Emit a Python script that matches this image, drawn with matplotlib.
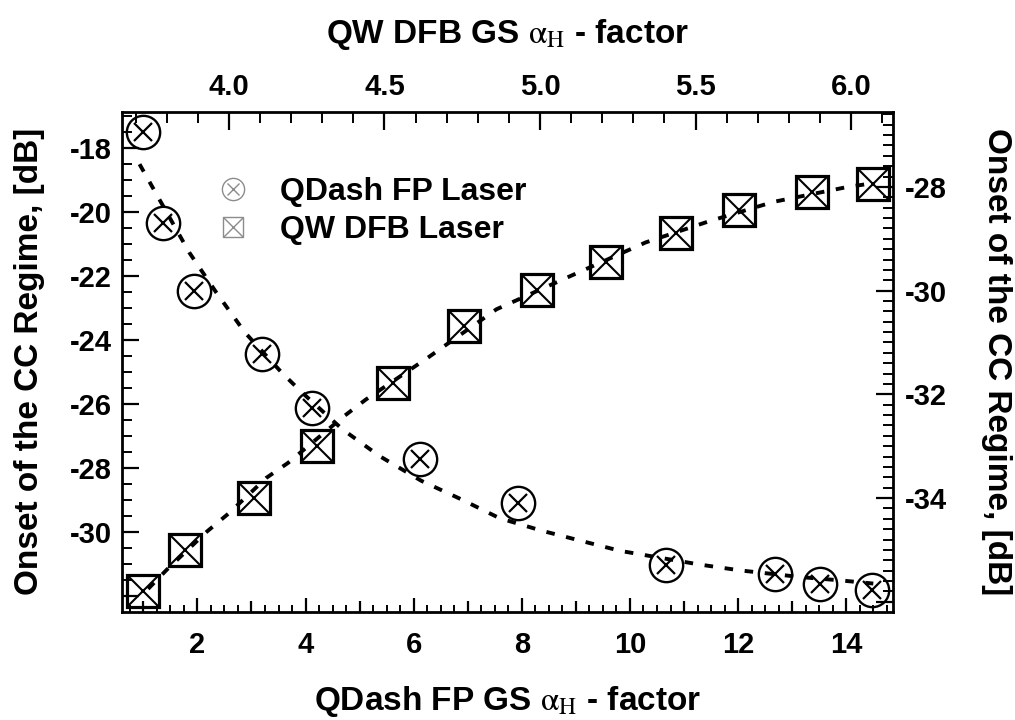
import matplotlib.pyplot as plt
from matplotlib.lines import Line2D
from matplotlib.ticker import MultipleLocator, FuncFormatter

plt.rcParams['font.family'] = ['Liberation Sans', 'DejaVu Sans']
plt.rcParams['mathtext.fontset'] = 'stix'
plt.rcParams['axes.unicode_minus'] = False

# QDash FP laser (sumbu bawah / kiri)
qd_alpha = [0.99, 1.36, 1.93, 3.19, 4.12, 6.11, 7.93, 10.67, 12.69, 13.52, 14.48]
qd_onset = [-17.51, -20.33, -22.46, -24.43, -26.13, -27.72, -29.09, -31.02, -31.31, -31.62, -31.80]
qd_fit_alpha = [0.93, 1.24, 1.85, 2.35, 2.88, 3.57, 3.94, 4.68, 5.37, 6.14, 6.88, 7.59,
                8.37, 9.08, 9.82, 11.30, 12.04, 13.17, 13.88, 14.50]
qd_fit_onset = [-18.50, -19.43, -21.26, -22.51, -23.76, -25.03, -25.64, -26.78, -27.62, -28.39,
                -28.97, -29.56, -29.95, -30.26, -30.58, -31.01, -31.19, -31.40, -31.50, -31.60]

# QW DFB laser (sumbu atas / kanan)
qw_alpha = [3.724, 3.859, 4.080, 4.284, 4.528, 4.757, 4.989, 5.212, 5.437, 5.641, 5.874, 6.070]
qw_onset = [-35.80, -35.00, -34.00, -32.99, -31.78, -30.68, -29.99, -29.44, -28.89, -28.44, -28.10, -27.95]
qw_fit_alpha = [3.74, 3.80, 3.93, 4.00, 4.12, 4.19, 4.37, 4.44, 4.64, 4.86, 5.09, 5.34,
                5.54, 5.75, 5.99, 6.07]
qw_fit_onset = [-35.75, -35.38, -34.64, -34.29, -33.61, -33.32, -32.42, -32.10, -31.29, -30.36,
                -29.74, -29.07, -28.67, -28.29, -28.00, -27.93]

labels = ['QDash FP Laser', 'QW DFB Laser']
left_ticks = [-18, -20, -22, -24, -26, -28, -30]
right_ticks = [-28, -30, -32, -34]

fig = plt.figure(figsize=(10.15, 7.2), dpi=100)
ax = fig.add_axes([0.1199, 0.1504, 0.7602, 0.6945])
ax2 = fig.add_axes(ax.get_position(), frameon=False)
ax2.patch.set_visible(False)

# kurva fit putus-putus
ax.plot(qd_fit_alpha, qd_fit_onset, color='k', lw=2.8, dashes=(2.2, 3.0))
ax2.plot(qw_fit_alpha, qw_fit_onset, color='k', lw=2.8, dashes=(2.2, 3.0))

# marker lingkaran-silang dan kotak-silang
ax.plot(qd_alpha, qd_onset, 'o', ms=24, mfc='none', mec='k', mew=1.7, clip_on=False)
ax.plot(qd_alpha, qd_onset, 'x', ms=13, mec='k', mew=1.6, clip_on=False)
ax2.plot(qw_alpha, qw_onset, 's', ms=23, mfc='none', mec='k', mew=2.3, clip_on=False)
ax2.plot(qw_alpha, qw_onset, 'x', ms=23, mec='k', mew=1.5, clip_on=False)

ax.set_xlim(0.6, 14.87)
ax.set_ylim(-32.48, -16.86)
ax2.set_xlim(3.655, 6.136)
ax2.set_ylim(-36.19, -26.55)

for s in ax.spines.values():
    s.set_linewidth(2.0)

# sumbu bawah: mayor tiap 1 (label genap), minor 0.25
ax.xaxis.set_major_locator(MultipleLocator(1))
ax.xaxis.set_minor_locator(MultipleLocator(0.25))
ax.xaxis.set_major_formatter(FuncFormatter(lambda v, p: '%d' % round(v) if round(v) % 2 == 0 else ''))
ax.yaxis.set_major_locator(MultipleLocator(2))
ax.yaxis.set_minor_locator(MultipleLocator(0.5))
ax.yaxis.set_major_formatter(FuncFormatter(lambda v, p: '%d' % round(v) if round(v) in left_ticks else ''))
ax.tick_params(axis='x', which='major', direction='in', length=10, width=1.6, pad=14,
               labelsize=21, top=False)
ax.tick_params(axis='x', which='minor', direction='in', length=5, width=1.4, top=False)
ax.tick_params(axis='y', which='major', direction='in', length=12, width=1.6, pad=7,
               labelsize=21, right=False)
ax.tick_params(axis='y', which='minor', direction='in', length=7, width=1.4, right=False)
locs = ax.xaxis.get_majorticklocs()
for t, v in zip(ax.xaxis.get_major_ticks(len(locs)), locs):
    if round(v) % 2:
        t.tick1line.set_markersize(8)

ax2.xaxis.tick_top()
ax2.xaxis.set_label_position('top')
ax2.yaxis.tick_right()
ax2.yaxis.set_label_position('right')
ax2.xaxis.set_major_locator(MultipleLocator(0.5))
ax2.xaxis.set_minor_locator(MultipleLocator(0.1))
ax2.xaxis.set_major_formatter(FuncFormatter(lambda v, p: '%.1f' % v))
ax2.yaxis.set_major_locator(MultipleLocator(2))
ax2.yaxis.set_minor_locator(MultipleLocator(0.2))
ax2.yaxis.set_major_formatter(FuncFormatter(lambda v, p: '%d' % round(v) if round(v) in right_ticks else ''))
ax2.tick_params(axis='x', which='major', direction='in', length=13, width=1.6, pad=7.5,
                labelsize=21, bottom=False)
ax2.tick_params(axis='x', which='minor', direction='in', length=8, width=1.4, bottom=False)
ax2.tick_params(axis='y', which='major', direction='in', length=12, width=1.6, pad=8,
                labelsize=21, left=False)
ax2.tick_params(axis='y', which='minor', direction='in', length=7, width=1.4, left=False)

for lab in ax.get_xticklabels() + ax.get_yticklabels() + ax2.get_xticklabels() + ax2.get_yticklabels():
    lab.set_fontweight('bold')

ax.set_xlabel(r'QDash FP GS $\mathrm{\alpha}_{\mathrm{H}}$ - factor', fontsize=24, fontweight='bold', labelpad=18)
ax.set_ylabel('Onset of the CC Regime, [dB]', fontsize=24, fontweight='bold', labelpad=18)
ax2.set_xlabel(r'QW DFB GS $\mathrm{\alpha}_{\mathrm{H}}$ - factor', fontsize=24, fontweight='bold', labelpad=22)
ax2.set_ylabel('Onset of the CC Regime, [dB]', fontsize=24, fontweight='bold', rotation=270,
               va='bottom', labelpad=25)

# legenda dengan marker abu-abu tipis
h1 = (Line2D([], [], ls='none', marker='o', ms=16, mfc='none', mec='0.55', mew=1.0),
      Line2D([], [], ls='none', marker='x', ms=9, mec='0.55', mew=1.0))
h2 = (Line2D([], [], ls='none', marker='s', ms=15, mfc='none', mec='0.55', mew=1.0),
      Line2D([], [], ls='none', marker='x', ms=15, mec='0.55', mew=1.0))
ax2.legend([h1, h2], labels, loc='upper left', bbox_to_anchor=(0.1235, 0.869), frameon=False,
           borderpad=0, borderaxespad=0, handlelength=1.03, handletextpad=0.94,
           labelspacing=0.25, prop={'weight': 'bold', 'size': 23})

fig.savefig('out.png', dpi=100)
